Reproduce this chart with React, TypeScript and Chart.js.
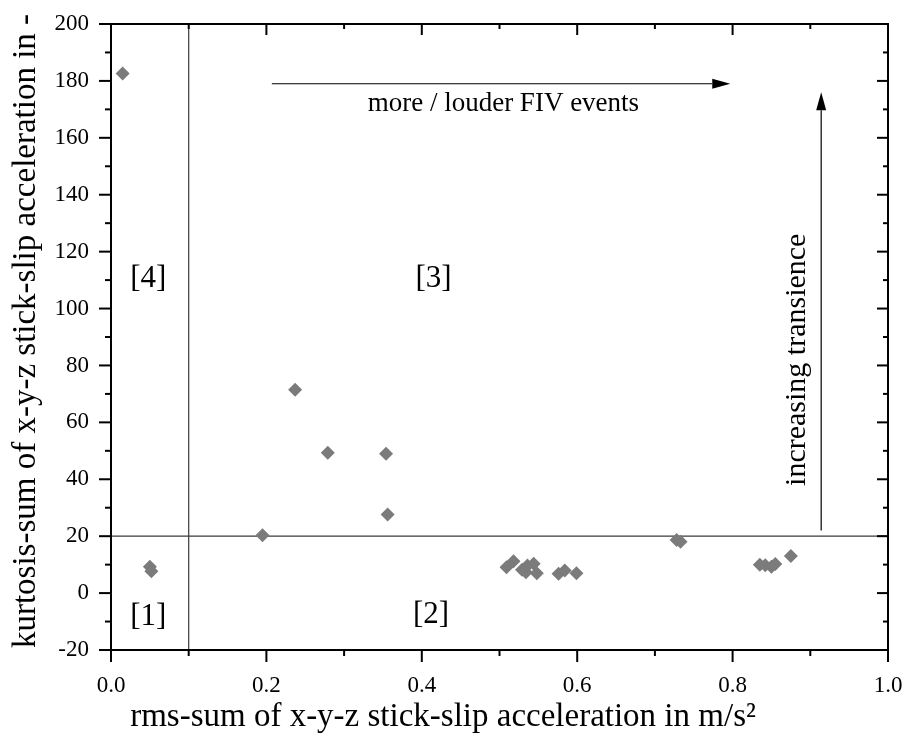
import React, { useEffect, useRef } from 'react';
import { Chart, registerables } from 'chart.js';

Chart.register(...registerables);

// ---- data ----
const rmsValues = [
  0.015, 0.050, 0.052, 0.195, 0.237, 0.279, 0.354, 0.356,
  0.509, 0.518, 0.529, 0.534, 0.536, 0.544, 0.548, 0.576, 0.584, 0.599,
  0.728, 0.733, 0.835, 0.842, 0.850, 0.855, 0.875,
];
const kurtosisValues = [
  182.6, 9.3, 7.7, 20.3, 71.5, 49.3, 49.0, 27.6,
  9.1, 11.2, 8.2, 7.3, 9.7, 10.3, 7.0, 6.8, 7.9, 7.0,
  18.7, 18.0, 10.0, 9.8, 9.3, 10.2, 13.0,
];

const xMajorTicks = [0, 0.2, 0.4, 0.6, 0.8, 1.0];
const xMinorTicks = [0.1, 0.3, 0.5, 0.7, 0.9];
const yMajorTicks = [-20, 0, 20, 40, 60, 80, 100, 120, 140, 160, 180, 200];
const yMinorTicks = [-10, 10, 30, 50, 70, 90, 110, 130, 150, 170, 190];

const thresholdRms = 0.1;
const thresholdKurtosis = 20;

const regionLabels = ['[1]', '[2]', '[3]', '[4]'];
const regionLabelX = [0.048, 0.412, 0.415, 0.048];
const regionLabelY = [-8.5, -7.5, 110.5, 110.5];

const hArrowText = 'more / louder FIV events';
const hArrowFrom = [0.207, 179];
const hArrowTo = [0.797, 179];
const hArrowTextPos = [0.505, 172];

const vArrowText = 'increasing transience';
const vArrowFrom = [0.914, 22];
const vArrowTo = [0.914, 176];
const vArrowTextPos = [0.883, 82];

const X_TITLE = 'rms-sum of x-y-z stick-slip acceleration in m/s²';
const Y_TITLE = 'kurtosis-sum of x-y-z stick-slip acceleration in -';

const FONT = "'Liberation Serif', 'Times New Roman', serif";

const framePlugin = {
  id: 'framePlugin',
  afterDraw(chart: any) {
    const ctx = chart.ctx;
    const xs = chart.scales.x;
    const ys = chart.scales.y;
    const { left, right, top, bottom } = chart.chartArea;
    ctx.save();
    ctx.strokeStyle = '#000';
    ctx.lineWidth = 2;
    ctx.strokeRect(left, top, right - left, bottom - top);
    const tick = (x1: number, y1: number, x2: number, y2: number) => {
      ctx.beginPath();
      ctx.moveTo(x1, y1);
      ctx.lineTo(x2, y2);
      ctx.stroke();
    };
    xMajorTicks.forEach((v) => {
      const px = xs.getPixelForValue(v);
      tick(px, bottom, px, bottom + 12);
      tick(px, top, px, top + 11);
    });
    xMinorTicks.forEach((v) => {
      const px = xs.getPixelForValue(v);
      tick(px, bottom, px, bottom + 6);
      tick(px, top, px, top + 5);
    });
    yMajorTicks.forEach((v) => {
      const py = ys.getPixelForValue(v);
      tick(left, py, left - 12, py);
      tick(right, py, right - 11, py);
    });
    yMinorTicks.forEach((v) => {
      const py = ys.getPixelForValue(v);
      tick(left, py, left - 6, py);
      tick(right, py, right - 5, py);
    });

    // region labels
    ctx.fillStyle = '#000';
    ctx.font = `31px ${FONT}`;
    ctx.textAlign = 'center';
    ctx.textBaseline = 'middle';
    regionLabels.forEach((t, i) => {
      ctx.fillText(t, xs.getPixelForValue(regionLabelX[i]), ys.getPixelForValue(regionLabelY[i]));
    });

    // arrows
    const arrow = (from: number[], to: number[]) => {
      const x1 = xs.getPixelForValue(from[0]);
      const y1 = ys.getPixelForValue(from[1]);
      const x2 = xs.getPixelForValue(to[0]);
      const y2 = ys.getPixelForValue(to[1]);
      const ang = Math.atan2(y2 - y1, x2 - x1);
      const hl = 18;
      const hw = 5;
      ctx.lineWidth = 1.2;
      ctx.strokeStyle = '#000';
      ctx.beginPath();
      ctx.moveTo(x1, y1);
      ctx.lineTo(x2 - hl * Math.cos(ang), y2 - hl * Math.sin(ang));
      ctx.stroke();
      ctx.beginPath();
      ctx.moveTo(x2, y2);
      ctx.lineTo(x2 - hl * Math.cos(ang) - hw * Math.sin(ang), y2 - hl * Math.sin(ang) + hw * Math.cos(ang));
      ctx.lineTo(x2 - hl * Math.cos(ang) + hw * Math.sin(ang), y2 - hl * Math.sin(ang) - hw * Math.cos(ang));
      ctx.closePath();
      ctx.fill();
    };
    arrow(hArrowFrom, hArrowTo);
    arrow(vArrowFrom, vArrowTo);

    ctx.font = `27px ${FONT}`;
    ctx.fillText(hArrowText, xs.getPixelForValue(hArrowTextPos[0]), ys.getPixelForValue(hArrowTextPos[1]));
    ctx.save();
    ctx.translate(xs.getPixelForValue(vArrowTextPos[0]), ys.getPixelForValue(vArrowTextPos[1]));
    ctx.rotate(-Math.PI / 2);
    ctx.font = `30px ${FONT}`;
    ctx.fillText(vArrowText, 0, 0);
    ctx.restore();

    // axis titles
    ctx.font = `33px ${FONT}`;
    ctx.fillText(X_TITLE, 443, 717);
    ctx.save();
    ctx.translate(26, 331);
    ctx.rotate(-Math.PI / 2);
    ctx.fillText(Y_TITLE, 0, 0);
    ctx.restore();
    ctx.restore();
  },
};

export default function App() {
  const canvasRef = useRef<HTMLCanvasElement | null>(null);

  useEffect(() => {
    if (!canvasRef.current) return;
    const points = rmsValues.map((x, i) => ({ x, y: kurtosisValues[i] }));
    const chart = new Chart(canvasRef.current, {
      type: 'scatter',
      data: {
        datasets: [
          {
            type: 'line',
            data: [
              { x: thresholdRms, y: -20 },
              { x: thresholdRms, y: 200 },
            ],
            borderColor: '#3a3a3a',
            borderWidth: 1.2,
            pointRadius: 0,
            showLine: true,
            order: 2,
          } as any,
          {
            type: 'line',
            data: [
              { x: 0, y: thresholdKurtosis },
              { x: 1, y: thresholdKurtosis },
            ],
            borderColor: '#3a3a3a',
            borderWidth: 1.2,
            pointRadius: 0,
            showLine: true,
            order: 2,
          } as any,
          {
            data: points,
            pointStyle: 'rectRot',
            pointRadius: 7,
            pointBackgroundColor: '#7b7b7b',
            pointBorderColor: '#7b7b7b',
            pointBorderWidth: 0,
            order: 1,
          },
        ],
      },
      options: {
        animation: false,
        responsive: false,
        layout: { padding: { left: 0, top: 24, right: 20, bottom: 0 } },
        plugins: {
          legend: { display: false },
          tooltip: { enabled: false },
        },
        scales: {
          x: {
            type: 'linear',
            min: 0,
            max: 1,
            grid: { display: false, drawTicks: false },
            border: { display: false },
            afterFit: (s: any) => {
              s.height = 99;
              s.paddingLeft = 0;
              s.paddingRight = 0;
            },
            afterBuildTicks: (s: any) => {
              s.ticks = xMajorTicks.map((v) => ({ value: v }));
            },
            ticks: {
              padding: 22,
              color: '#000',
              font: { family: FONT, size: 23 },
              callback: (v: any) => Number(v).toFixed(1),
              maxRotation: 0,
            },
          },
          y: {
            type: 'linear',
            min: -20,
            max: 200,
            grid: { display: false, drawTicks: false },
            border: { display: false },
            afterFit: (s: any) => {
              s.width = 111;
              s.paddingTop = 0;
              s.paddingBottom = 0;
            },
            afterBuildTicks: (s: any) => {
              s.ticks = yMajorTicks.map((v) => ({ value: v }));
            },
            ticks: {
              padding: 22,
              color: '#000',
              font: { family: FONT, size: 23 },
            },
          },
        },
      },
      plugins: [framePlugin],
    });
    return () => chart.destroy();
  }, []);

  return (
    <div style={{ position: 'absolute', left: 0, top: 0, width: 908, height: 749 }}>
      <canvas ref={canvasRef} width={908} height={749} style={{ display: 'block' }} />
    </div>
  );
}
